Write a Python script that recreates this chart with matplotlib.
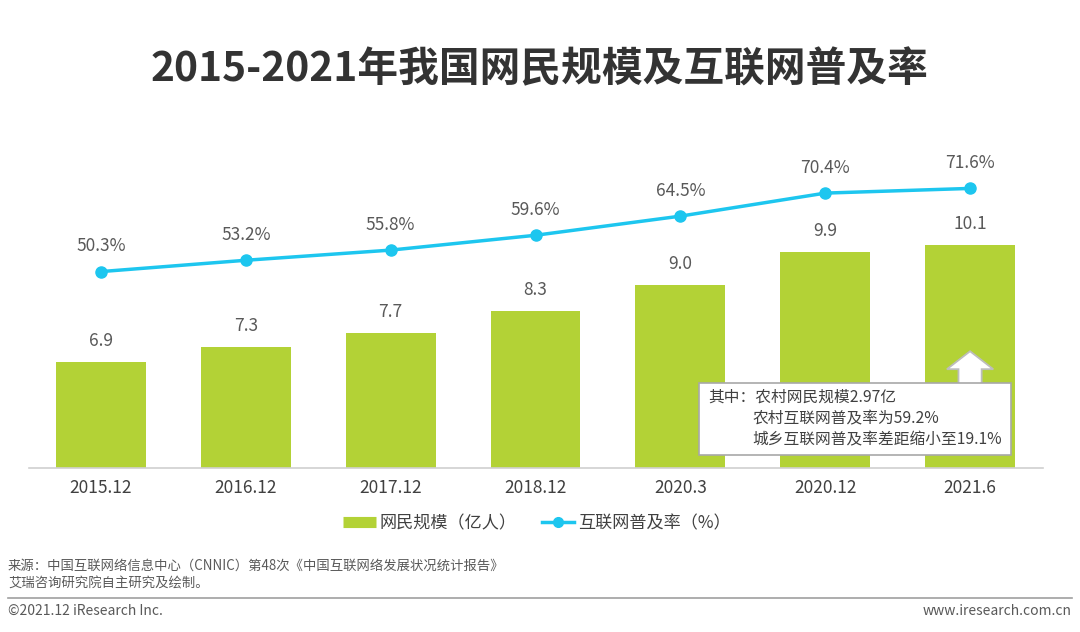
import numpy as np
import matplotlib
matplotlib.use("Agg")
import matplotlib.pyplot as plt
import matplotlib.patches as mpatches
from matplotlib.lines import Line2D

plt.rcParams['font.family'] = ['Noto Sans CJK SC', 'DejaVu Sans']

# ==========================
# Dati
# ==========================
categories = ["2015.12", "2016.12", "2017.12", "2018.12", "2020.3", "2020.12", "2021.6"]
users = [6.9, 7.3, 7.7, 8.3, 9.0, 9.9, 10.1]          # 亿人
penetration = [50.3, 53.2, 55.8, 59.6, 64.5, 70.4, 71.6]  # %

title = "2015-2021年我国网民规模及互联网普及率"
note_lines = ["其中：农村网民规模2.97亿", "农村互联网普及率为59.2%", "城乡互联网普及率差距缩小至19.1%"]

GREEN = "#B3D236"
CYAN = "#1DC6EF"
TXT = "#595959"

W, H = 1080, 632
fig = plt.figure(figsize=(W / 100, H / 100), dpi=100)
fig.patch.set_facecolor("white")

# axes: baseline y=468 px, top y=140 px, x 28.5 -> 1042.5
ax = fig.add_axes([28.5 / W, (H - 468) / H, 1014 / W, 328 / H])
x = np.arange(len(categories))

ax.bar(x, users, width=0.62, color=GREEN, zorder=2)
ax.set_xlim(-0.5, len(categories) - 0.5)
ax.set_ylim(4, 4 + 328 / 36.6)
for xi, v in zip(x, users):
    ax.text(xi, v + 0.33, f"{v:.1f}", ha="center", va="bottom", fontsize=12.5, color=TXT)

for s in ["top", "right", "left"]:
    ax.spines[s].set_visible(False)
ax.spines["bottom"].set_color("#d0d0d0")
ax.spines["bottom"].set_linewidth(1.2)
ax.set_yticks([])
ax.set_xticks(x)
ax.set_xticklabels(categories, fontsize=12.5, color="#404040")
ax.tick_params(axis="x", length=0, pad=8)

ax2 = ax.twinx()
ax2.set_ylim(0, 84)
ax2.plot(x, penetration, color=CYAN, lw=2.5, marker="o", ms=8, zorder=3)
for xi, v in zip(x, penetration):
    ax2.text(xi, v + 4.2, f"{v:.1f}%", ha="center", va="bottom", fontsize=12.5, color=TXT)
ax2.axis("off")

# annotation box + arrow
ax.add_patch(mpatches.FancyArrow(6, 6.2, 0, 0.5, width=0.16, head_width=0.32,
                                 head_length=0.49, length_includes_head=False,
                                 facecolor="white", edgecolor="#bdbdbd", lw=1.3, zorder=4))
ax.add_patch(mpatches.Rectangle((4.13, 4.36), 2.15, 1.95, facecolor="white",
                                edgecolor="#a8a8a8", lw=1.2, zorder=5))
ax.text(4.19, 5.93, note_lines[0], fontsize=11.3, color="#404040", va="center", zorder=6)
ax.text(4.5, 5.35, note_lines[1], fontsize=11.3, color="#404040", va="center", zorder=6)
ax.text(4.5, 4.78, note_lines[2], fontsize=11.3, color="#404040", va="center", zorder=6)

# title
fig.text(0.5, 1 - 70 / H, title, ha="center", va="center", fontsize=29.3,
         fontweight="bold", color="#333333")

# legend
handles = [Line2D([0], [0], color=GREEN, lw=8, solid_capstyle="butt"),
           Line2D([0], [0], color=CYAN, lw=2.5, marker="o", ms=7)]
fig.legend(handles, ["网民规模（亿人）", "互联网普及率（%）"], loc="center",
           bbox_to_anchor=(0.497, 1 - 523 / H), ncol=2, frameon=False,
           fontsize=12.3, labelcolor="#404040", handlelength=1.9,
           columnspacing=1.5, handletextpad=0.2)

# footer
fig.text(8 / W, 1 - 566 / H, "来源：中国互联网络信息中心（CNNIC）第48次《中国互联网络发展状况统计报告》",
         fontsize=9.6, color=TXT, va="center")
fig.text(8 / W, 1 - 583 / H, "艾瑞咨询研究院自主研究及绘制。", fontsize=9.6, color=TXT, va="center")
fig.add_artist(Line2D([8 / W, 1072 / W], [1 - 598 / H, 1 - 598 / H],
                      color="#a0a0a0", lw=1.2))
fig.text(8 / W, 1 - 611 / H, "©2021.12 iResearch Inc.", fontsize=10, color=TXT, va="center")
fig.text(1072 / W, 1 - 611 / H, "www.iresearch.com.cn", fontsize=10, color=TXT,
         va="center", ha="right")

fig.savefig("out.png", dpi=100)
